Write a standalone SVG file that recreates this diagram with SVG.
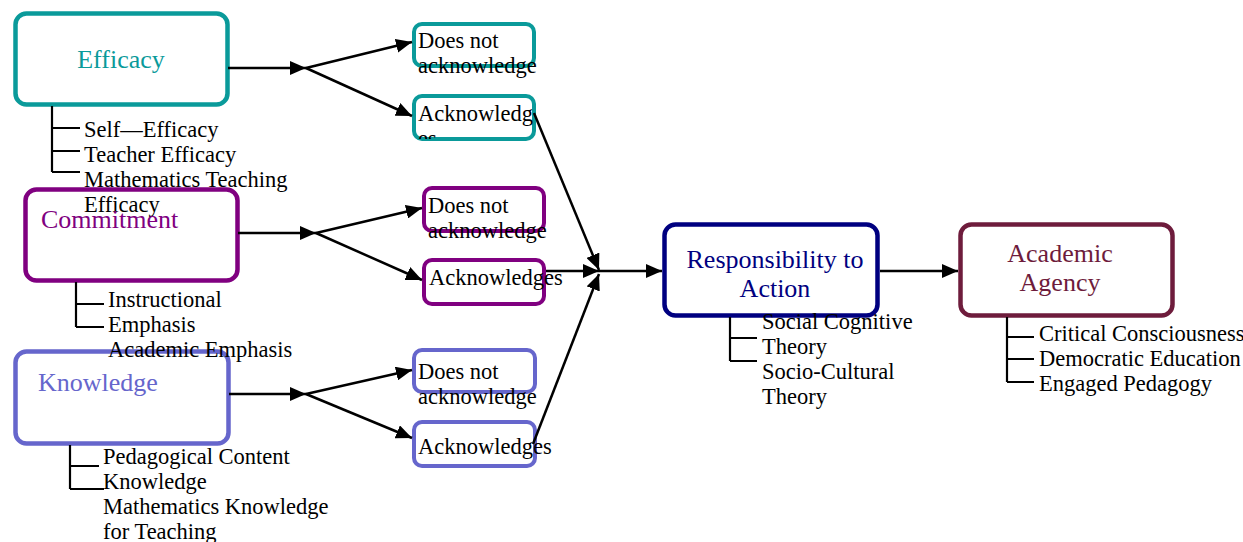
<svg xmlns="http://www.w3.org/2000/svg" width="1243" height="542" viewBox="0 0 1243 542">
<style>
  .box { fill: #ffffff; stroke-width: 4.5; }
  .sbox { fill: #ffffff; stroke-width: 4; }
  .teal { stroke: #0a9a9a; }
  .purple { stroke: #800080; }
  .slate { stroke: #6666cc; }
  .navy { stroke: #000080; }
  .maroon { stroke: #6e1c3c; }
  .t { font-family: "Liberation Serif", "Times New Roman", serif; font-size: 22.5px; fill: #000000; }
  .title { font-family: "Liberation Serif", "Times New Roman", serif; font-size: 26px; }
  .br { fill: none; stroke: #000000; stroke-width: 2.2; }
  .conn { fill: none; stroke: #000000; stroke-width: 2.5; }
</style>
<defs>
  <marker id="ah" markerWidth="16" markerHeight="14" refX="16" refY="7" orient="auto" markerUnits="userSpaceOnUse">
    <path d="M0,0 L16,7 L0,14 z" fill="#000000"/>
  </marker>
  <clipPath id="clipAck1">
    <rect x="412" y="94" width="126" height="45"/>
  </clipPath>
</defs>

<!-- boxes -->
<g id="efficacy">
  <rect class="box teal" x="15.5" y="13.5" width="212" height="91" rx="11"/>
</g>
<g id="commitment">
  <rect class="box purple" x="25.5" y="189.5" width="212" height="91" rx="11"/>
</g>
<g id="knowledge">
  <rect class="box slate" x="15.5" y="351.5" width="213" height="92" rx="11"/>
</g>
<g id="eff-not">
  <rect class="sbox teal" x="414" y="24" width="120" height="42" rx="8"/>
</g>
<g id="eff-ack">
  <rect class="sbox teal" x="414" y="96" width="120" height="43" rx="8"/>
</g>
<g id="com-not">
  <rect class="sbox purple" x="424" y="188" width="120" height="43" rx="8"/>
</g>
<g id="com-ack">
  <rect class="sbox purple" x="424" y="260" width="120" height="44" rx="8"/>
</g>
<g id="kno-not">
  <rect class="sbox slate" x="414" y="350" width="121" height="42" rx="8"/>
</g>
<g id="kno-ack">
  <rect class="sbox slate" x="414" y="422" width="121" height="44" rx="8"/>
</g>
<g id="responsibility">
  <rect class="box navy" x="664.5" y="224.5" width="213" height="91" rx="11"/>
</g>
<g id="agency">
  <rect class="box maroon" x="960.5" y="224.5" width="212" height="91" rx="11"/>
</g>

<!-- connectors -->
<g id="connectors">
  <line class="conn" x1="228" y1="68" x2="306" y2="68" marker-end="url(#ah)"/>
  <line class="conn" x1="306" y1="68" x2="412" y2="42" marker-end="url(#ah)"/>
  <line class="conn" x1="306" y1="68" x2="412" y2="116" marker-end="url(#ah)"/>

  <line class="conn" x1="238" y1="233" x2="316" y2="233" marker-end="url(#ah)"/>
  <line class="conn" x1="316" y1="233" x2="422" y2="208" marker-end="url(#ah)"/>
  <line class="conn" x1="316" y1="233" x2="422" y2="280" marker-end="url(#ah)"/>

  <line class="conn" x1="229" y1="394" x2="306" y2="394" marker-end="url(#ah)"/>
  <line class="conn" x1="306" y1="394" x2="412" y2="370" marker-end="url(#ah)"/>
  <line class="conn" x1="306" y1="394" x2="412" y2="438" marker-end="url(#ah)"/>

  <line class="conn" x1="534" y1="113" x2="599" y2="270" marker-end="url(#ah)"/>
  <line class="conn" x1="546" y1="271" x2="599" y2="271" marker-end="url(#ah)"/>
  <line class="conn" x1="533" y1="444" x2="599" y2="274" marker-end="url(#ah)"/>
  <line class="conn" x1="599" y1="271" x2="662" y2="271" marker-end="url(#ah)"/>
  <line class="conn" x1="880" y1="271" x2="958" y2="271" marker-end="url(#ah)"/>

  <!-- bracket lines -->
  <path class="br" d="M52,106 V172 M52,128 H80 M52,151 H80 M52,172 H80"/>
  <path class="br" d="M76,282 V327 M76,304 H104 M76,327 H104"/>
  <path class="br" d="M70,445 V489 M70,466 H99 M70,489 H104"/>
  <path class="br" d="M730,317 V361 M730,338 H757 M730,361 H757"/>
  <path class="br" d="M1007,317 V382 M1007,337 H1034 M1007,359 H1034 M1007,382 H1034"/>
</g>

<!-- texts -->
<g id="texts">
  <text class="title" x="121" y="68" text-anchor="middle" fill="#0a9a9a">Efficacy</text>
  <text class="t" x="84" y="137">Self—Efficacy</text>
  <text class="t" x="84" y="162">Teacher Efficacy</text>
  <text class="t" x="84" y="187">Mathematics Teaching</text>
  <text class="t" x="84" y="212">Efficacy</text>

  <text class="title" x="41" y="228" fill="#800080">Commitment</text>
  <text class="t" x="108" y="307">Instructional</text>
  <text class="t" x="108" y="332">Emphasis</text>
  <text class="t" x="108" y="357">Academic Emphasis</text>

  <text class="title" x="38" y="391" fill="#6666cc">Knowledge</text>
  <text class="t" x="103" y="464">Pedagogical Content</text>
  <text class="t" x="103" y="489">Knowledge</text>
  <text class="t" x="103" y="514">Mathematics Knowledge</text>
  <text class="t" x="103" y="539">for Teaching</text>

  <text class="t" x="418" y="48">Does not</text>
  <text class="t" x="418" y="73">acknowledge</text>
  <g clip-path="url(#clipAck1)">
    <text class="t" x="418" y="121">Acknowledg</text>
    <text class="t" x="418" y="146">es</text>
  </g>

  <text class="t" x="428" y="213">Does not</text>
  <text class="t" x="428" y="238">acknowledge</text>
  <text class="t" x="429" y="285">Acknowledges</text>

  <text class="t" x="418" y="379">Does not</text>
  <text class="t" x="418" y="404">acknowledge</text>
  <text class="t" x="418" y="454">Acknowledges</text>

  <text class="title" x="775" y="268" text-anchor="middle" fill="#000080">Responsibility to</text>
  <text class="title" x="775" y="297" text-anchor="middle" fill="#000080">Action</text>
  <text class="t" x="762" y="329">Social Cognitive</text>
  <text class="t" x="762" y="354">Theory</text>
  <text class="t" x="762" y="379">Socio-Cultural</text>
  <text class="t" x="762" y="404">Theory</text>

  <text class="title" x="1060" y="262" text-anchor="middle" fill="#6e1c3c">Academic</text>
  <text class="title" x="1060" y="291" text-anchor="middle" fill="#6e1c3c">Agency</text>
  <text class="t" x="1039" y="341">Critical Consciousness</text>
  <text class="t" x="1039" y="366">Democratic Education</text>
  <text class="t" x="1039" y="391">Engaged Pedagogy</text>
</g>
</svg>
